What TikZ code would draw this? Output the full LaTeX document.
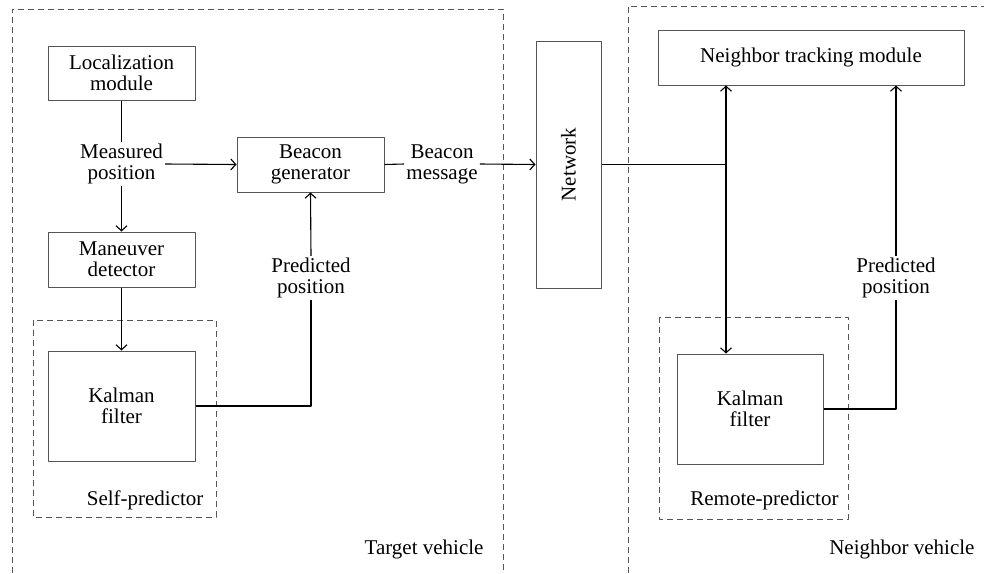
\documentclass[tikz,border=0pt]{standalone}
\usepackage{fontspec}
\setmainfont{Liberation Serif}
\usetikzlibrary{arrows.meta}
\definecolor{boxgray}{HTML}{555555}
\tikzset{
  blk/.style={draw=boxgray, line width=1pt, align=center, inner sep=0pt},
  lbl/.style={align=center, inner sep=2pt},
  region/.style={draw=boxgray, line width=1pt, dash pattern=on 6pt off 4pt},
  conn/.style={line width=1.1pt}
}
\begin{document}
\begin{tikzpicture}[x=1pt, y=-1pt, >={Straight Barb[length=5pt,width=11pt]},
  font=\fontsize{21}{21}\selectfont, line join=round]
 	\useasboundingbox (0,0) rectangle (984,573);
 	% vehicle regions (open at the bottom edge)
 	\draw[region] (12,573)--(12,9)--(503,9)--(503,573);
 	\draw[region] (628,573)--(628,6)--(984,6);
 	\draw[region] (33,320) rectangle (216,517);
 	\draw[region] (659,317) rectangle (848,519);
 	\node (target) at (487,549) [anchor=east]{Target vehicle};
 	\node (neighbor) at (978,549) [anchor=east]{Neighbor vehicle};
 	\node (selfp) at (207,500) [anchor=east]{Self-predictor};
 	\node (remotep) at (842,500) [anchor=east]{Remote-predictor};
 	% blocks
 	\node (loc) at (121.5,73) [blk, minimum width=147, minimum height=54]{Localization\\module};
 	\node (maneuver) at (121.5,259.5) [blk, minimum width=147, minimum height=55]{Maneuver\\detector};
 	\node (kfself) at (121.5,406) [blk, minimum width=147, minimum height=110]{Kalman\\filter};
 	\node (beacon) at (310.5,164.5) [blk, minimum width=147, minimum height=55]{Beacon\\generator};
 	\node (network) at (568.5,164.5) [blk, minimum width=65, minimum height=247]{};
 	\node at (network.center) [rotate=90]{Network};
 	\node (ntm) at (811,57.5) [blk, minimum width=306, minimum height=55]{Neighbor tracking module};
 	\node (kfremote) at (750,409) [blk, minimum width=146, minimum height=110]{Kalman\\filter};
 	% labels on the connectors
 	\node (measured) at (121.5,164) [lbl]{Measured\\position};
 	\node (predself) at (311,278) [lbl]{Predicted\\position};
 	\node (bmsg) at (442,164) [lbl]{Beacon\\message};
 	\node (predremote) at (896,278) [lbl]{Predicted\\position};
 	\coordinate (junc) at (726,164.5);
 	% connectors
 	\draw[conn] (loc.south) -- (measured.north);
 	\draw[conn,->] (measured.east) -- (beacon.west);
 	\draw[conn,->] (measured.south) -- (maneuver.north);
 	\draw[conn,->] (maneuver.south) -- (kfself.north);
 	\draw[conn] (kfself.east) -| (predself.south);
 	\draw[conn,->] (predself.north) -- (beacon.south);
 	\draw[conn] (beacon.east) -- (bmsg.west);
 	\draw[conn,->] (bmsg.east) -- (network.west);
 	\draw[conn] (network.east) -- (junc);
 	\draw[conn,->] (junc) -- (ntm.south -| junc);
 	\draw[conn,->] (junc) -- (kfremote.north -| junc);
 	\draw[conn] (kfremote.east) -| (predremote.south);
 	\draw[conn,->] (predremote.north) -- (ntm.south -| predremote);
\end{tikzpicture}
\end{document}
